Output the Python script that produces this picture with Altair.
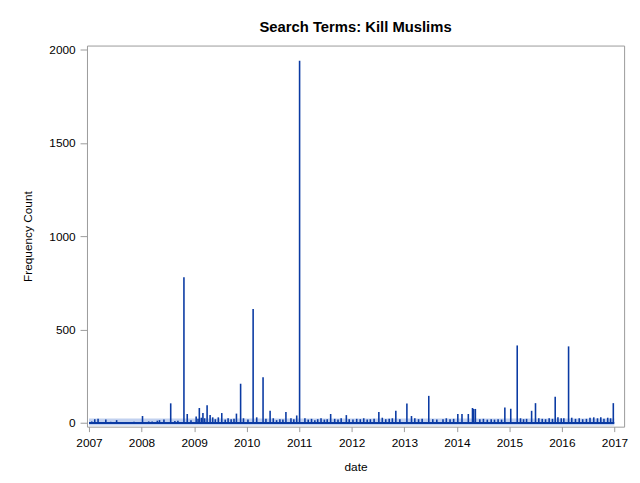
import altair as alt
import pandas as pd

# Spikes / daily peaks (date, frequency count)
spike_dates = [
    "2007-02-10", "2007-03-05", "2007-04-28", "2007-07-12", "2008-01-08",
    "2008-04-20", "2008-05-05", "2008-06-05", "2008-07-22", "2008-10-22",
    "2008-11-14", "2009-01-15", "2009-02-06", "2009-03-03", "2009-04-01",
    "2009-04-22", "2009-05-10", "2009-07-12", "2009-10-22", "2009-11-20",
    "2010-02-15", "2010-04-25", "2010-06-13", "2010-10-01", "2010-12-15",
    "2011-01-04", "2011-08-08", "2011-11-25", "2012-07-08", "2012-11-03",
    "2013-01-19", "2013-02-20", "2013-06-20", "2013-09-27", "2014-01-08",
    "2014-02-06", "2014-03-22", "2014-04-20", "2014-04-28", "2014-05-10",
    "2014-12-01", "2015-01-11", "2015-02-25", "2015-06-05", "2015-07-02",
    "2015-11-16", "2016-02-17", "2016-12-24",
]
spike_values = [
    20, 22, 18, 15, 37,
    12, 15, 18, 105, 780,
    48, 35, 80, 53, 95,
    42, 30, 53, 50, 210,
    610, 245, 65, 58, 40,
    1940, 48, 42, 58, 65,
    104, 37, 145, 20, 48,
    48, 48, 80, 75, 75,
    83, 76, 415, 65, 106,
    140, 410, 106,
]

# Smaller day-to-day bumps
small_dates = [
    "2007-01-20", "2007-06-01", "2007-09-15", "2007-11-10", "2008-02-20",
    "2008-03-15", "2008-08-20", "2008-09-10", "2008-12-10",
    "2009-01-28", "2009-02-20", "2009-03-15", "2009-05-28", "2009-06-18",
    "2009-08-05", "2009-08-25", "2009-09-15", "2009-10-05", "2009-12-10",
    "2010-01-10", "2010-03-12", "2010-05-15", "2010-07-05", "2010-07-28",
    "2010-08-20", "2010-09-10", "2010-11-05", "2010-11-25",
    "2011-02-10", "2011-03-05", "2011-03-28", "2011-04-20", "2011-05-10",
    "2011-06-02", "2011-06-25", "2011-07-15", "2011-09-05", "2011-09-28",
    "2011-10-20", "2011-12-15",
    "2012-01-10", "2012-02-05", "2012-03-01", "2012-03-25", "2012-04-18",
    "2012-05-10", "2012-06-05", "2012-08-01", "2012-08-25", "2012-09-18",
    "2012-10-10", "2012-12-01",
    "2013-03-15", "2013-04-10", "2013-05-05", "2013-07-18", "2013-08-15",
    "2013-10-20", "2013-11-15", "2013-12-10",
    "2014-06-10", "2014-07-05", "2014-08-01", "2014-08-28", "2014-09-20",
    "2014-10-15", "2014-11-08",
    "2015-03-20", "2015-04-10", "2015-05-01", "2015-07-25", "2015-08-18",
    "2015-09-10", "2015-10-05", "2015-10-28", "2015-12-05", "2015-12-28",
    "2016-01-15", "2016-03-10", "2016-04-05", "2016-05-01", "2016-05-25",
    "2016-06-20", "2016-07-15", "2016-08-10", "2016-09-05", "2016-09-28",
    "2016-10-20", "2016-11-15", "2016-12-05",
]
small_values = [
    8, 6, 5, 6, 8,
    8, 10, 12, 15,
    22, 28, 25, 20, 30,
    18, 25, 20, 22, 25,
    18, 30, 22, 25, 15,
    20, 18, 25, 20,
    25, 18, 22, 15, 20,
    25, 18, 20, 22, 18,
    25, 20,
    18, 22, 20, 25, 18,
    20, 22, 28, 20, 22,
    25, 20,
    25, 20, 22, 20, 18,
    25, 20, 22,
    20, 22, 18, 20, 18,
    20, 18,
    25, 20, 22, 25, 22,
    20, 25, 22, 30, 25,
    25, 28, 22, 25, 20,
    22, 28, 30, 25, 30,
    22, 28, 25,
]

# Baseline extent of the daily series
range_start = ["2007-01-01T00:00"]
range_end = ["2016-12-31T00:00"]
base_level = [0]
halo_level = [5]

y_ticks = [0, 500, 1000, 1500, 2000]
x_years = list(range(2007, 2018))

BLUE = "#0A3AA3"
FONT = "Liberation Sans"

df = pd.DataFrame({
    "date": [d + "T00:00" for d in spike_dates + small_dates],
    "count": spike_values + small_values,
})
base_df = pd.DataFrame({"start": range_start, "end": range_end,
                        "base": base_level, "halo": halo_level})

xscale = alt.Scale(domain=[alt.DateTime(year=2006, month=12, date=18),
                           alt.DateTime(year=2017, month=3, date=9)])
yscale = alt.Scale(domain=[-20, 2021], nice=False, zero=False)

xaxis = alt.Axis(values=[alt.DateTime(year=y, month=1, date=1) for y in x_years],
                 format="%Y", title="date", grid=False, domain=False,
                 tickColor="#9A9A9A", tickSize=5, labelPadding=6,
                 labelFontSize=12, labelFont=FONT, labelColor="#000000",
                 titleFont=FONT, titleFontSize=12, titleFontWeight="normal",
                 titleColor="#000000", titlePadding=13, labelFlush=False)
yaxis = alt.Axis(values=y_ticks, format="d", title="Frequency Count", grid=False,
                 domain=False, tickColor="#9A9A9A", tickSize=7, labelPadding=5,
                 labelFontSize=12, labelFont=FONT, labelColor="#000000",
                 titleFont=FONT, titleFontSize=12, titleFontWeight="normal",
                 titleColor="#000000", titlePadding=15)

halo = alt.Chart(base_df).mark_rule(color="#A8BDE8", strokeWidth=7, opacity=0.7).encode(
    x=alt.X("start:T", scale=xscale, axis=xaxis),
    x2="end:T",
    y=alt.Y("halo:Q", scale=yscale, axis=yaxis),
)
base = alt.Chart(base_df).mark_rule(color=BLUE, strokeWidth=2).encode(
    x=alt.X("start:T", scale=xscale, axis=xaxis),
    x2="end:T",
    y=alt.Y("base:Q", scale=yscale, axis=yaxis),
)
spikes = alt.Chart(df).mark_rule(color=BLUE, strokeWidth=1.6).encode(
    x=alt.X("date:T", scale=xscale, axis=xaxis),
    y=alt.Y("count:Q", scale=yscale, axis=yaxis),
    y2=alt.Y2(datum=0),
)

chart = alt.layer(halo, base, spikes).properties(
    width=544,
    height=386,
    title=alt.TitleParams("Search Terms: Kill Muslims", font=FONT, fontSize=15,
                          fontWeight="bold", color="#000000", anchor="middle",
                          offset=9),
    autosize=alt.AutoSizeParams(type="none"),
    padding={"left": 80, "top": 35, "right": 8, "bottom": 54},
).configure_view(stroke="#9A9A9A", strokeWidth=1)

chart.save("out.html", embed_options={"renderer": "svg", "actions": False})
